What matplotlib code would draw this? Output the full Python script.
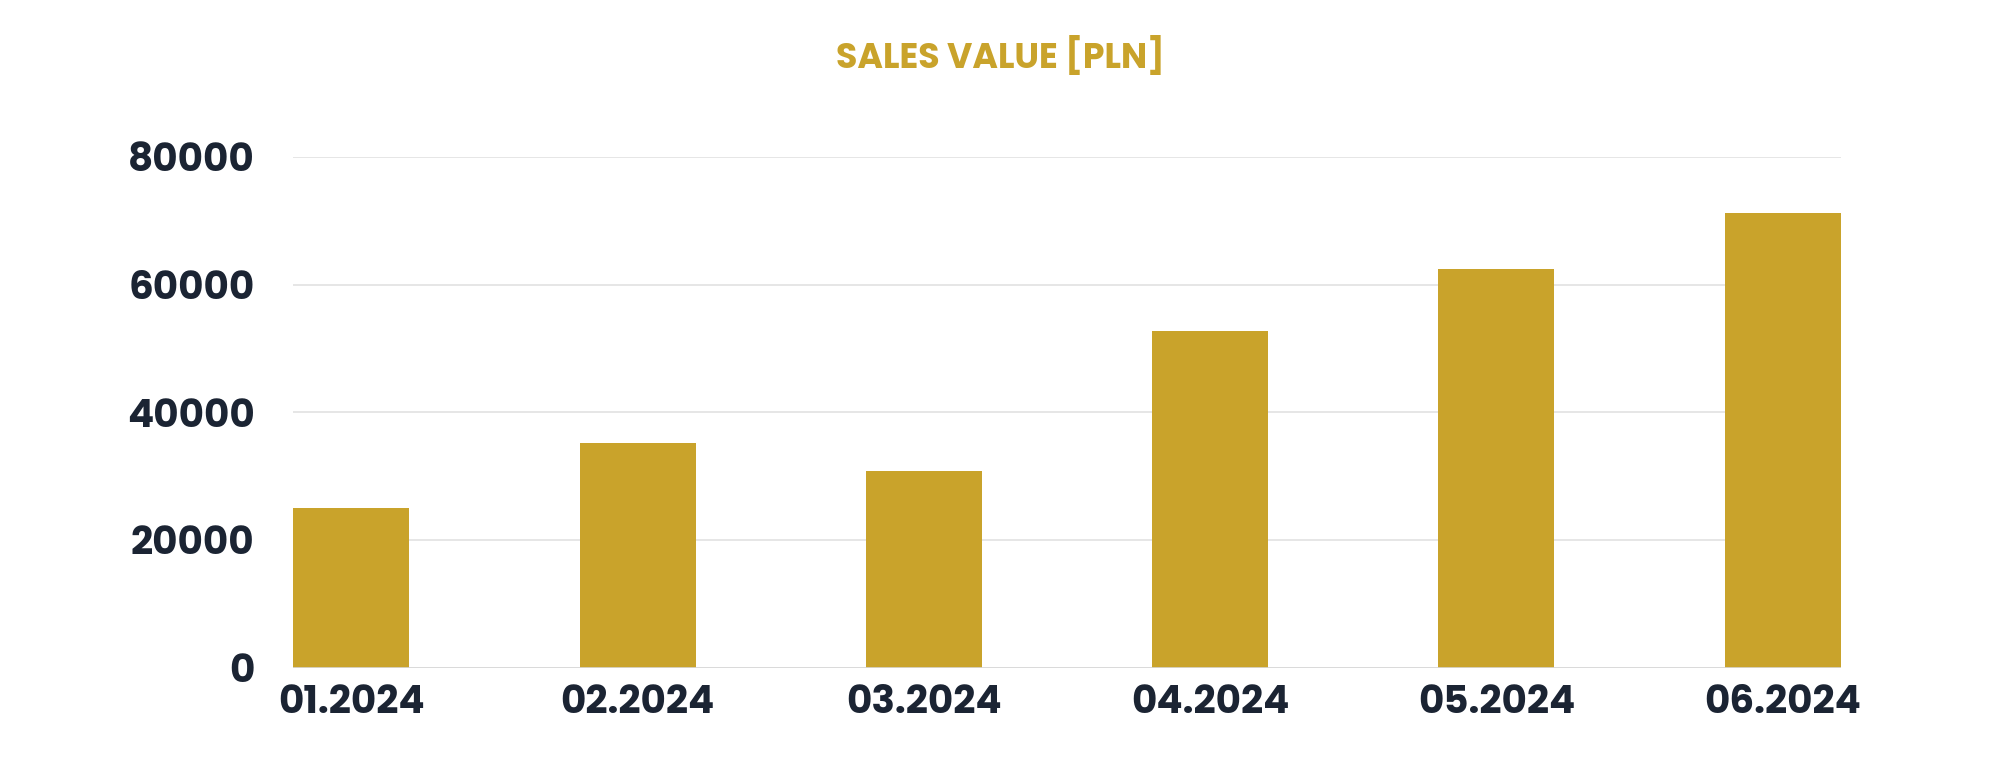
import matplotlib
matplotlib.use("Agg")
import matplotlib.pyplot as plt

categories = ["01.2024", "02.2024", "03.2024", "04.2024", "05.2024", "06.2024"]
values = [25000, 35200, 30800, 52800, 62400, 71200]
yticks = [0, 20000, 40000, 60000, 80000]

gold = "#C9A32B"
dark = "#1B2433"
plt.rcParams['font.family'] = ['Poppins', 'Lato', 'DejaVu Sans']

fig = plt.figure(figsize=(20, 7.76), dpi=100)
ax = fig.add_axes([0.1467, 0.1398, 0.7736, 0.6579])
w = 0.405
x = list(range(len(categories)))
ax.bar(x, values, width=w, color=gold, zorder=3)
ax.set_xlim(-w/2, len(categories) - 1 + w/2)
ax.set_ylim(0, 80000)
ax.set_yticks(yticks)
ax.set_yticklabels([str(v) for v in yticks])
ax.set_xticks(x)
ax.set_xticklabels(categories)
ax.grid(axis='y', color='#e2e2e2', linewidth=1.2, zorder=0)
for s in ax.spines.values():
    s.set_visible(False)
ax.axhline(0, color='#d8d8d8', linewidth=1.2, zorder=4)
ax.tick_params(length=0, labelsize=28, colors=dark, pad=12)
for lab in ax.get_xticklabels() + ax.get_yticklabels():
    lab.set_fontweight('bold')
ax.tick_params(axis='y', pad=28)
fig.text(0.5, 0.926, "SALES VALUE [PLN]", ha='center', va='center',
         fontsize=25, fontweight='bold', color=gold)
fig.savefig("out.png", dpi=100)
